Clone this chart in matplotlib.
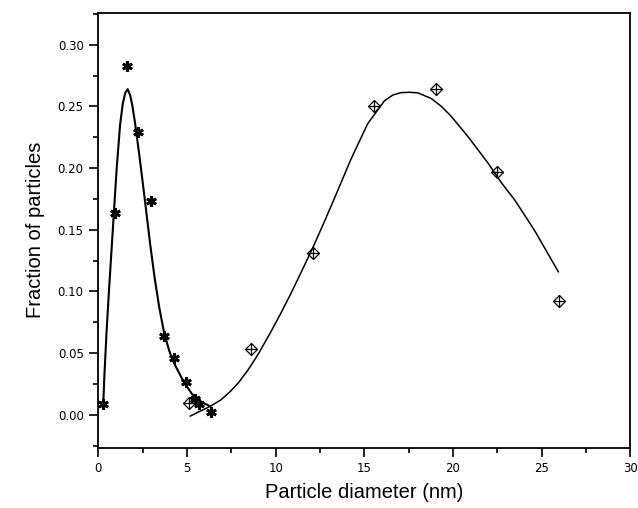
import numpy as np
import matplotlib
matplotlib.use("Agg")
import matplotlib.pyplot as plt
from matplotlib.ticker import MultipleLocator

# measured points, small particles (stars)
small_d = [0.28, 0.95, 1.64, 2.23, 2.97, 3.68, 4.28, 4.97, 5.45, 5.70, 6.36]
small_f = [0.009, 0.164, 0.283, 0.229, 0.173, 0.064, 0.046, 0.027, 0.013, 0.009, 0.002]

# measured points, large particles (diamonds)
large_d = [5.12, 8.62, 12.08, 15.56, 19.05, 22.50, 25.98]
large_f = [0.010, 0.053, 0.131, 0.250, 0.264, 0.197, 0.092]

# fitted curves
fit1_d = [0.28, 0.34, 0.47, 0.61, 0.79, 0.89, 1.04, 1.23, 1.38, 1.52, 1.66, 1.80, 1.92,
          2.08, 2.32, 2.51, 2.68, 2.93, 3.17, 3.44, 3.72, 4.00, 4.24, 4.52, 4.81, 5.28,
          5.85, 6.32]
fit1_f = [0.008, 0.030, 0.068, 0.102, 0.143, 0.166, 0.200, 0.235, 0.252, 0.261, 0.264,
          0.259, 0.251, 0.236, 0.210, 0.188, 0.168, 0.138, 0.112, 0.087, 0.066, 0.052,
          0.043, 0.035, 0.027, 0.017, 0.010, 0.007]

fit2_d = [5.19, 5.75, 6.32, 6.90, 7.45, 7.90, 8.40, 8.70, 9.05, 9.72, 10.28, 10.85,
          11.42, 12.08, 12.70, 13.30, 14.24, 15.19, 16.13, 16.60, 17.07, 17.55, 18.02,
          18.77, 19.35, 19.90, 20.85, 21.98, 22.74, 23.49, 24.62, 25.94]
fit2_f = [-0.001, 0.003, 0.007, 0.012, 0.019, 0.026, 0.0355, 0.042, 0.050, 0.067, 0.082,
          0.098, 0.115, 0.135, 0.155, 0.175, 0.207, 0.236, 0.2545, 0.2592, 0.2612, 0.2615,
          0.261, 0.2565, 0.250, 0.242, 0.2255, 0.204, 0.188, 0.174, 0.149, 0.116]

plt.rcParams['font.family'] = ['Liberation Sans', 'DejaVu Sans']

fig = plt.figure(figsize=(6.38, 5.08), dpi=100)
ax = fig.add_axes([0.154, 0.119, 0.834, 0.856])

ax.plot(fit1_d, fit1_f, color="black", lw=1.5)
ax.plot(fit2_d, fit2_f, color="black", lw=1.1)

ax.plot(small_d, small_f, linestyle="none", marker=(6, 2, 0), markersize=7.5,
        markeredgewidth=2.0, color="black")
ax.plot(large_d, large_f, linestyle="none", marker="D", markersize=6,
        markerfacecolor="none", markeredgecolor="black", markeredgewidth=0.9)
ax.plot(large_d, large_f, linestyle="none", marker="+", markersize=8,
        markeredgewidth=0.9, color="black")

ax.set_xlim(0, 30)
ax.set_ylim(-0.0265, 0.326)
ax.xaxis.set_major_locator(MultipleLocator(5))
ax.xaxis.set_minor_locator(MultipleLocator(2.5))
ax.yaxis.set_minor_locator(MultipleLocator(0.025))
ax.set_yticks(np.arange(0, 0.301, 0.05))
ax.set_yticklabels(["%.2f" % v for v in np.arange(0, 0.301, 0.05)])

for lab in ax.get_xticklabels() + ax.get_yticklabels():
    lab.set_family("DejaVu Sans")
ax.tick_params(which="major", direction="out", length=6.5, width=1.2, labelsize=8.5,
               top=False, right=False, pad=4)
ax.tick_params(which="minor", direction="out", length=3.5, width=1.2,
               top=False, right=False)
for s in ax.spines.values():
    s.set_linewidth(1.3)

ax.set_xlabel("Particle diameter (nm)", fontsize=14.5, labelpad=6)
ax.set_ylabel("Fraction of particles", fontsize=14.5, labelpad=9)

fig.savefig("out.png", dpi=100)
